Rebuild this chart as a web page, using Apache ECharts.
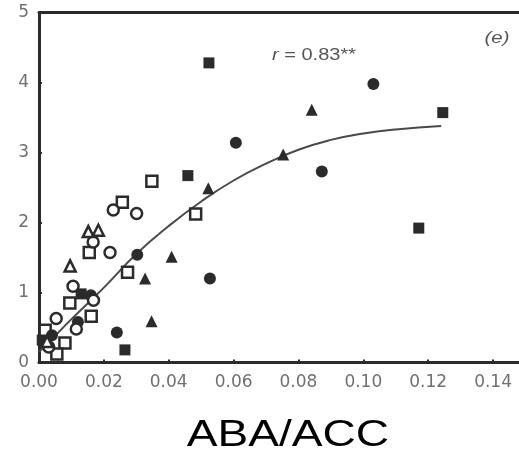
<!DOCTYPE html>
<html><head><meta charset="utf-8">
<script src="https://cdn.jsdelivr.net/npm/echarts@6/dist/echarts.min.js"></script>
<style>html,body{margin:0;padding:0;background:#fff}#c{width:519px;height:460px}</style>
</head><body><div id="c"></div>
<script>
// x = ABA/ACC ratio, y = response value
const filledSquares = [[0.0524,4.28],[0.0459,2.67],[0.1245,3.57],[0.1171,1.92],[0.0265,0.18],[0.0130,0.98],[0.0010,0.32]];
const openSquares = [[0.0348,2.59],[0.0257,2.29],[0.0483,2.12],[0.0155,1.57],[0.0273,1.29],[0.0095,0.85],[0.0161,0.66],[0.0019,0.46],[0.0080,0.28],[0.0055,0.12]];
const filledCircles = [[0.0607,3.14],[0.1031,3.98],[0.0872,2.73],[0.0527,1.20],[0.0303,1.54],[0.0240,0.43],[0.0120,0.58],[0.0160,0.96],[0.0040,0.39]];
const openCircles = [[0.0229,2.18],[0.0301,2.13],[0.0219,1.57],[0.0167,1.72],[0.0105,1.09],[0.0053,0.63],[0.0115,0.48],[0.0168,0.89],[0.0030,0.22]];
const filledTriangles = [[0.0841,3.61],[0.0753,2.97],[0.0522,2.49],[0.0409,1.51],[0.0327,1.20],[0.0347,0.59]];
const openTriangles = [[0.0152,1.87],[0.0183,1.89],[0.0096,1.38],[0.0025,0.30]];
const fitX = [0.000,0.006,0.010,0.020,0.030,0.040,0.050,0.060,0.070,0.080,0.090,0.100,0.110,0.124];
const fitY = [0.15,0.43,0.62,1.07,1.55,1.95,2.30,2.60,2.84,3.04,3.18,3.27,3.33,3.38];
const yTicks = [0,1,2,3,4,5];
const xLabelText = 'ABA/ACC';
const rText = '{i|r} = 0.83**';
const panelText = '(e)';

const dark = '#2b2b2b';
const fitData = fitX.map((x,i)=>[x,fitY[i]]);
function filled(name, symbol, size, data){
  return {name, type:'scatter', symbol, symbolSize:size, data, z:3,
    itemStyle:{color:dark, opacity:1}};
}
function open(name, symbol, size, data){
  return {name, type:'scatter', symbol, symbolSize:size, data, z:3,
    itemStyle:{color:'#fff', borderColor:dark, borderWidth:2.5, opacity:1}};
}
const chart = echarts.init(document.getElementById('c'), null, {renderer:'canvas'});
const labelFont = {fontFamily:'DejaVu Sans', fontSize:17, color:'#707070'};
chart.setOption({
  animation:false,
  backgroundColor:'#fff',
  grid:{left:39, right:0, top:12.5, bottom:97.5, containLabel:false},
  xAxis:[{
    type:'value', min:0, max:0.148, interval:0.02,
    axisLine:{show:true, onZero:false, lineStyle:{color:dark, width:3}},
    axisTick:{show:true, inside:true, length:3, lineStyle:{color:dark, width:2}},
    axisLabel:{...labelFont, margin:12, showMaxLabel:false, formatter:v=>v.toFixed(2)},
    splitLine:{show:false}
  },{
    type:'value', position:'top', min:0, max:0.148,
    axisLine:{show:true, onZero:false, lineStyle:{color:dark, width:3}},
    axisTick:{show:false}, axisLabel:{show:false}, splitLine:{show:false}
  }],
  yAxis:{
    type:'value', min:yTicks[0], max:yTicks[yTicks.length-1], interval:1,
    axisLine:{show:true, onZero:false, lineStyle:{color:dark, width:3}},
    axisTick:{show:true, inside:true, length:3, lineStyle:{color:dark, width:2}},
    axisLabel:{...labelFont, margin:10},
    splitLine:{show:false}
  },
  series:[
    {name:'fit', type:'line', data:fitData, smooth:0.5, showSymbol:false, symbol:'none', z:2,
      lineStyle:{color:'#4a4a4a', width:2}},
    filled('filled square','rect',11,filledSquares),
    open('open square','rect',11,openSquares),
    filled('filled circle','circle',12,filledCircles),
    open('open circle','circle',11,openCircles),
    filled('filled triangle','triangle',12,filledTriangles),
    open('open triangle','triangle',11,openTriangles)
  ],
  graphic:[
    {type:'text', x:288, y:436, scaleX:1.28, z:10,
      style:{text:xLabelText, fontSize:36, fontFamily:'Liberation Sans', fill:'#000',
        align:'center', verticalAlign:'middle', textAlign:'center', textVerticalAlign:'middle'}},
    {type:'text', x:272, y:56, scaleX:1.25, z:10,
      style:{text:rText, fontSize:16, fontFamily:'Liberation Sans', fill:'#555',
        align:'left', verticalAlign:'middle', textAlign:'left', textVerticalAlign:'middle',
        rich:{i:{fontStyle:'italic', fontSize:16, fontFamily:'Liberation Sans', fill:'#555'}}}},
    {type:'text', x:497, y:38, scaleX:1.2, z:10,
      style:{text:panelText, fontSize:17, fontFamily:'Liberation Sans', fontStyle:'italic', fill:'#555',
        align:'center', verticalAlign:'middle', textAlign:'center', textVerticalAlign:'middle'}}
  ]
});
</script></body></html>
